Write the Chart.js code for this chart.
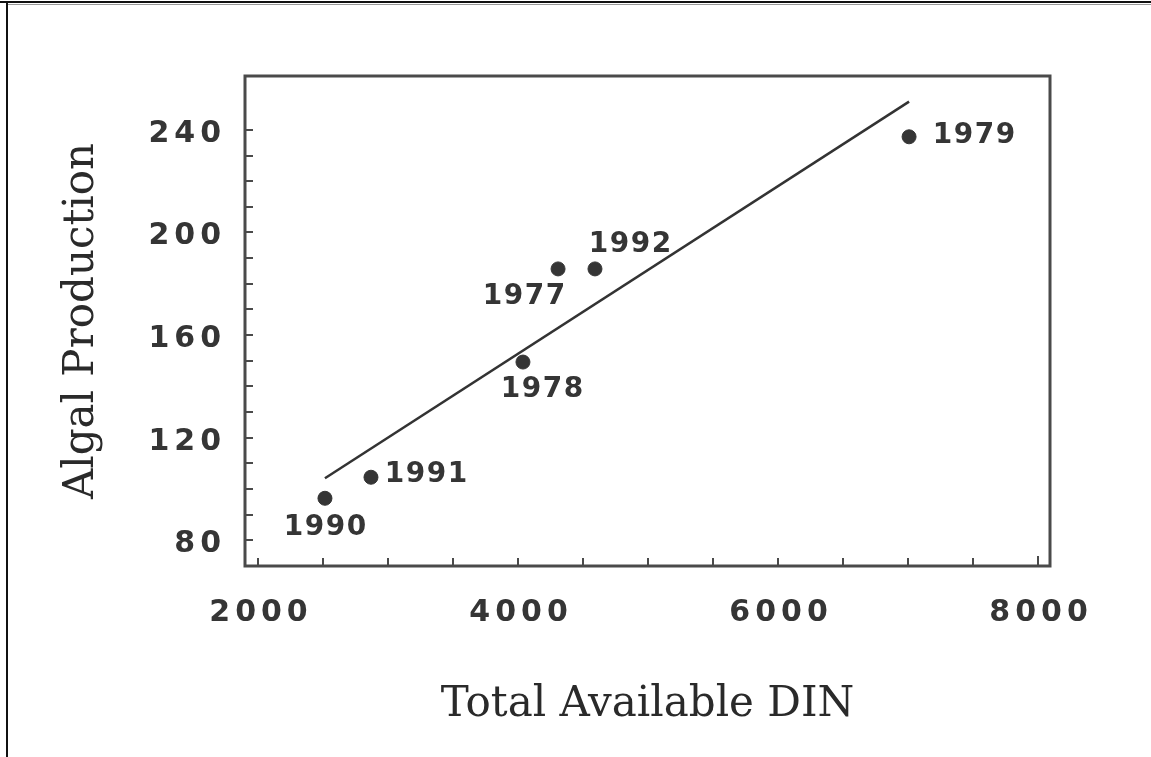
<!DOCTYPE html>
<html>
<head>
<meta charset="utf-8">
<title>Algal Production vs Total Available DIN</title>
<script src="https://cdn.jsdelivr.net/npm/chart.js@4.4.1/dist/chart.umd.min.js"></script>
<style>
  html, body { margin: 0; padding: 0; background: #fff; }
  #wrap { position: relative; width: 1151px; height: 757px; overflow: hidden; background: #fff; }
  #chart { position: absolute; left: 0; top: 0; }
  /* edge of the scanned page */
  .rule { position: absolute; pointer-events: none; }
  .rule.top { left: 0; top: 1px; width: 1151px; height: 2px; background: #111; }
  .rule.top2 { left: 8px; top: 4px; width: 1143px; height: 1px; background: #999; }
  .rule.left { left: 6px; top: 3px; width: 2px; height: 754px; background: #111; }
</style>
</head>
<body>
<div id="wrap">
  <canvas id="chart" width="1151" height="757"></canvas>
  <div class="rule top"></div>
  <div class="rule top2"></div>
  <div class="rule left"></div>
</div>
<script>
"use strict";

// one point per year
const YEARS = ["1990", "1991", "1978", "1977", "1992", "1979"];
const DIN = [2515, 2869, 4038, 4308, 4592, 7008];
const PRODUCTION = [96.4, 104.6, 149.5, 185.8, 185.8, 237.3];

const FIT_DIN = [2515, 7008];
const FIT_PRODUCTION = [104.2, 251.0];

const X_TICKS = [2000, 4000, 6000, 8000];
const Y_TICKS = [80, 120, 160, 200, 240];

// where each year label sits from its dot (px, label centre)
const LABEL_OFFSET = {
  "1990": [0, 29],
  "1991": [55, -3],
  "1978": [19, 28],
  "1977": [-34, 28],
  "1992": [35, -24],
  "1979": [65, -1],
};

const INK = "#353535";
const TITLE_INK = "#2a2a2a";
const TICK_SPACING = "5px";
const LABEL_SPACING = "1.5px";
const SANS = "'DejaVu Sans', sans-serif";
const SERIF = "'DejaVu Serif', serif";

// linear scale whose tick labels are drawn letter-spaced, like the original
class SpacedLinearScale extends Chart.LinearScale {
  drawLabels(chartArea) {
    const ctx = this.ctx;
    ctx.save();
    ctx.letterSpacing = TICK_SPACING;
    super.drawLabels(chartArea);
    ctx.restore();
  }
}
SpacedLinearScale.id = "spacedLinear";
Chart.register(SpacedLinearScale);

// plot frame plus the small inward tick marks
const frame = {
  id: "frame",
  beforeDatasetsDraw(chart) {
    const { ctx, chartArea: a, scales } = chart;
    ctx.save();
    ctx.strokeStyle = "#4a4a4a";
    ctx.lineWidth = 3;
    ctx.strokeRect(a.left, a.top, a.right - a.left, a.bottom - a.top);
    ctx.lineWidth = 2;
    ctx.beginPath();
    for (let v = 80; v <= 240; v += 10) {
      const y = Math.round(scales.y.getPixelForValue(v));
      ctx.moveTo(a.left, y);
      ctx.lineTo(a.left + 8, y);
    }
    for (let v = 2000; v <= 8000; v += 500) {
      const x = Math.round(scales.x.getPixelForValue(v));
      ctx.moveTo(x, a.bottom);
      ctx.lineTo(x, a.bottom - (v === 8000 ? 10 : 8));
    }
    ctx.stroke();
    ctx.restore();
  },
};

const yearLabels = {
  id: "yearLabels",
  afterDatasetsDraw(chart) {
    const { ctx } = chart;
    const meta = chart.getDatasetMeta(0);
    ctx.save();
    ctx.letterSpacing = LABEL_SPACING;
    ctx.font = "bold 28px " + SANS;
    ctx.fillStyle = INK;
    ctx.textAlign = "center";
    ctx.textBaseline = "middle";
    meta.data.forEach((pt, i) => {
      const off = LABEL_OFFSET[YEARS[i]];
      ctx.fillText(YEARS[i], pt.x + off[0] + 0.75, pt.y + off[1]);
    });
    ctx.restore();
  },
};

new Chart(document.getElementById("chart"), {
  type: "scatter",
  data: {
    datasets: [
      {
        label: "Years",
        data: DIN.map((x, i) => ({ x, y: PRODUCTION[i] })),
        backgroundColor: INK,
        borderColor: INK,
        pointRadius: 7,
        pointHoverRadius: 7,
      },
      {
        type: "line",
        label: "Fit",
        data: FIT_DIN.map((x, i) => ({ x, y: FIT_PRODUCTION[i] })),
        borderColor: "#333",
        borderWidth: 2.5,
        pointRadius: 0,
        fill: false,
      },
    ],
  },
  options: {
    responsive: false,
    animation: false,
    devicePixelRatio: 1,
    layout: { padding: { left: 0, top: 76, right: 101, bottom: 0 } },
    plugins: { legend: { display: false }, tooltip: { enabled: false } },
    scales: {
      x: {
        type: "spacedLinear",
        position: "bottom",
        min: 1900,
        max: 8092,
        afterBuildTicks: (s) => { s.ticks = X_TICKS.map((v) => ({ value: v })); },
        afterFit: (s) => { s.height = 191; },
        grid: { display: false, drawTicks: false },
        border: { display: false },
        ticks: {
          autoSkip: false,
          maxRotation: 0,
          padding: 29,
          labelOffset: 3,
          color: INK,
          font: { family: SANS, size: 30, weight: "bold" },
          callback: (v) => String(v),
        },
        title: {
          display: true,
          text: "Total Available DIN",
          color: TITLE_INK,
          padding: { top: 0, bottom: 27 },
          font: { family: SERIF, size: 42 },
        },
      },
      y: {
        type: "spacedLinear",
        position: "left",
        min: 70,
        max: 261,
        afterBuildTicks: (s) => { s.ticks = Y_TICKS.map((v) => ({ value: v })); },
        afterFit: (s) => { s.width = 245; },
        grid: { display: false, drawTicks: false },
        border: { display: false },
        ticks: {
          autoSkip: false,
          padding: 19,
          labelOffset: 4,
          color: INK,
          font: { family: SANS, size: 30, weight: "bold" },
          callback: (v) => String(v),
        },
        title: {
          display: true,
          text: "Algal Production",
          color: TITLE_INK,
          padding: { top: 57, bottom: 0 },
          font: { family: SERIF, size: 42 },
        },
      },
    },
  },
  plugins: [frame, yearLabels],
});
</script>
</body>
</html>
